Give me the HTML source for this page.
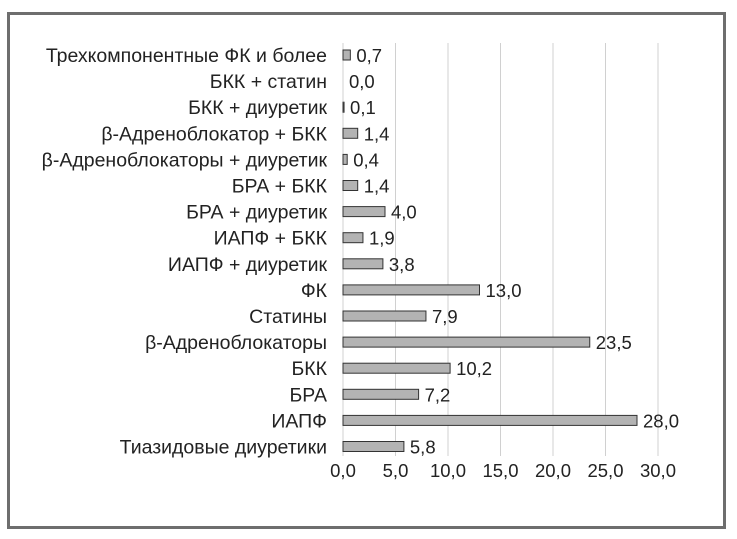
<!DOCTYPE html>
<html><head><meta charset="utf-8"><style>
body{margin:0;background:#fff}
svg{display:block;font-family:"Liberation Sans",sans-serif}
</style></head><body>
<svg id="chart" width="737" height="539">
<rect x="8.5" y="13.5" width="716" height="514" fill="#fff" stroke="#6e6e6e" stroke-width="3"/>
<g id="grid"></g><g id="bars"></g><g id="labels"></g><g id="ticks"></g>
</svg>
<script>
const categories=["Трехкомпонентные ФК и более","БКК + статин","БКК + диуретик","β-Адреноблокатор + БКК","β-Адреноблокаторы + диуретик","БРА + БКК","БРА + диуретик","ИАПФ + БКК","ИАПФ + диуретик","ФК","Статины","β-Адреноблокаторы","БКК","БРА","ИАПФ","Тиазидовые диуретики"];
const values=[0.7,0.0,0.1,1.4,0.4,1.4,4.0,1.9,3.8,13.0,7.9,23.5,10.2,7.2,28.0,5.8];
const valueLabels=["0,7","0,0","0,1","1,4","0,4","1,4","4,0","1,9","3,8","13,0","7,9","23,5","10,2","7,2","28,0","5,8"];
const tickValues=[0,5,10,15,20,25,30];
const tickLabels=["0,0","5,0","10,0","15,0","20,0","25,0","30,0"];
const NS="http://www.w3.org/2000/svg";
const x=v=>343+v*(658-343)/30;
const y=i=>55+i*26.1;
function mk(tag,attrs,parent,text){const e=document.createElementNS(NS,tag);for(const k in attrs)e.setAttribute(k,attrs[k]);if(text!==undefined)e.textContent=text;document.getElementById(parent).appendChild(e);return e;}
tickValues.forEach((t,i)=>{
 const l=mk("line",{x1:x(t),x2:x(t),y1:43,y2:456,stroke:"#d0d0d0","stroke-width":1},"grid");
 
 
 const tx=mk("text",{x:x(t),y:477,"text-anchor":"middle","font-size":18.5,fill:"#222"},"ticks",tickLabels[i]);
 
 
});
categories.forEach((c,i)=>{
 const cl=mk("text",{x:327,y:y(i)+7,"text-anchor":"end","font-size":19.5,fill:"#222"},"labels",c);
 
 
 const w=x(values[i])-x(0);
 if(values[i]>0){
  const b=mk("rect",{x:x(0),y:y(i)-5,width:w,height:10,fill:"#b3b3b3",stroke:"#333","stroke-width":1},"bars");
  
  
 }
 const vl=mk("text",{x:x(0)+w+6,y:y(i)+7,"font-size":18.5,fill:"#222"},"labels",valueLabels[i]);
 
 
});
</script>
</body></html>
